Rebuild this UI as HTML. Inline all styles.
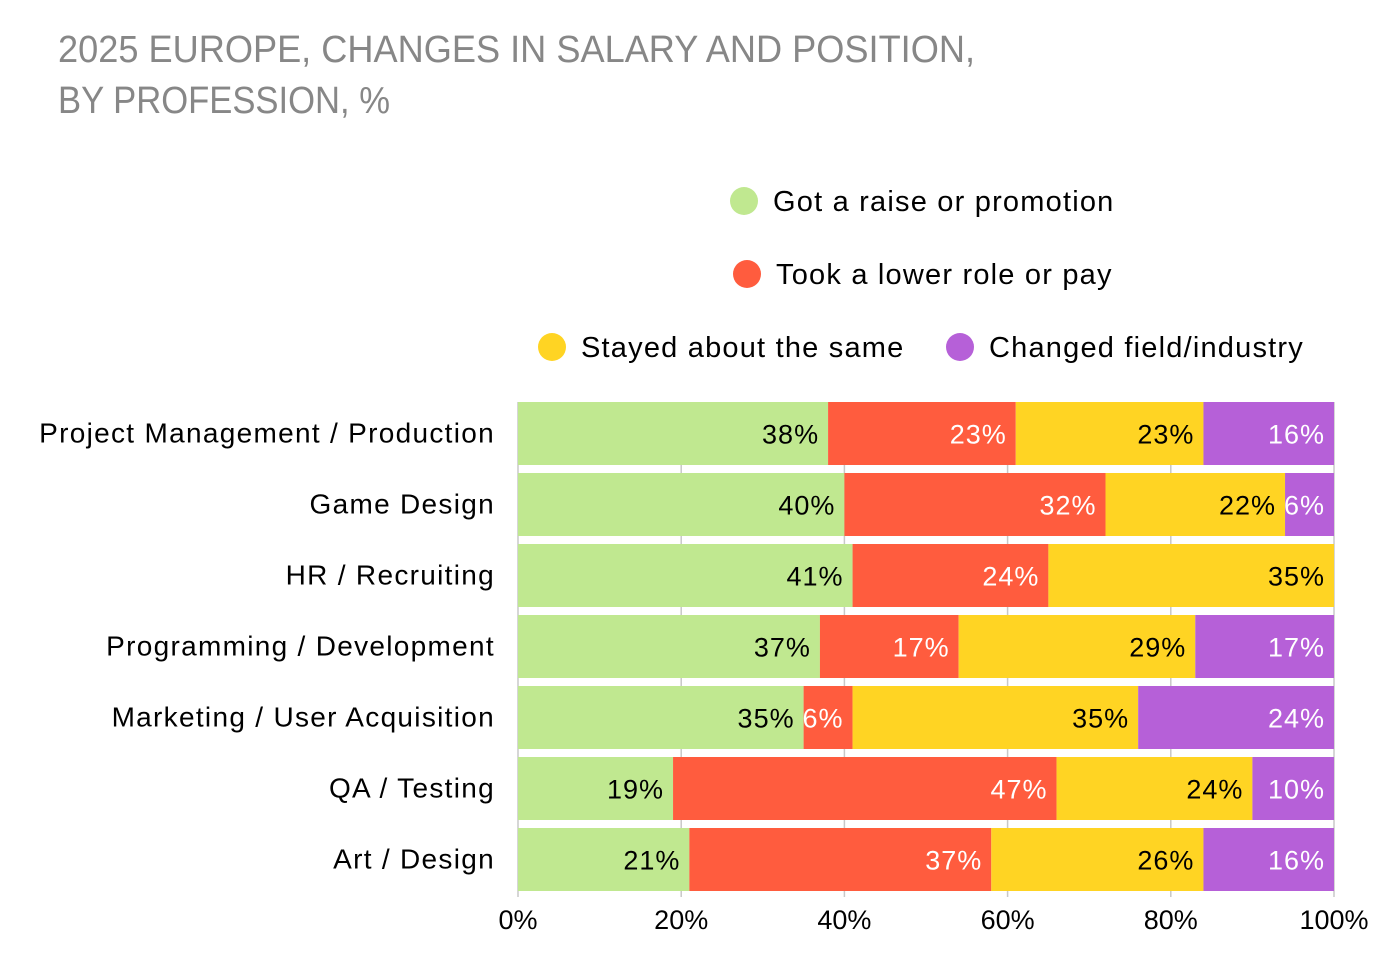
<!DOCTYPE html>
<html><head><meta charset="utf-8"><style>
html,body{margin:0;padding:0;background:#fff;}
svg{display:block;font-family:"Liberation Sans",sans-serif;}
</style></head><body>
<svg id="chart" width="1392" height="964" viewBox="0 0 1392 964">
<text x="58" y="62" font-size="38" fill="#878787" textLength="917" lengthAdjust="spacingAndGlyphs">2025 EUROPE, CHANGES IN SALARY AND POSITION,</text>
<text x="58" y="113" font-size="38" fill="#878787" textLength="332" lengthAdjust="spacingAndGlyphs">BY PROFESSION, %</text>
<g id="legend"></g>
<g id="grid"></g>
<g id="bars"></g>
<g id="xaxis"></g>
<g id="yaxis"></g>
</svg>
<script>
const categories = ["Project Management / Production","Game Design","HR / Recruiting","Programming / Development","Marketing / User Acquisition","QA / Testing","Art / Design"];
const seriesNames = ["Got a raise or promotion","Took a lower role or pay","Stayed about the same","Changed field/industry"];
const raise = [38,40,41,37,35,19,21];
const lower = [23,32,24,17,6,47,37];
const same = [23,22,35,29,35,24,26];
const changed = [16,6,0,17,24,10,16];
const xTicks = [0,20,40,60,80,100];
const tickLabels = ["0%","20%","40%","60%","80%","100%"];

const NS="http://www.w3.org/2000/svg";
const colors=["#c0e890","#ff5c3e","#ffd423","#b660d8"];
const textColors=["#000","#fff","#000","#fff"];
const series=[raise,lower,same,changed];
const x0=518,x1=1334,top0=402,step=71,bh=63;
const xs=v=>x0+(x1-x0)*v/100;
const yb=i=>top0+i*step;
function mk(tag,attrs,parent){const e=document.createElementNS(NS,tag);for(const k in attrs)e.setAttribute(k,attrs[k]);parent.appendChild(e);return e;}
const grid=document.getElementById('grid'),bars=document.getElementById('bars'),xa=document.getElementById('xaxis'),ya=document.getElementById('yaxis'),lg=document.getElementById('legend');
xTicks.forEach((t,i)=>{
  const l=mk('line',{x1:xs(t),x2:xs(t),y1:top0,y2:yb(categories.length-1)+bh+6,stroke:'#c8c8c8','stroke-width':1.5},grid);
  
  
  const tx=mk('text',{x:xs(t),y:929,'font-size':27,'text-anchor':'middle',fill:'#000'},xa);
  tx.textContent=tickLabels[i];
  
  
});
categories.forEach((c,i)=>{
  const y=yb(i);
  const t=mk('text',{x:495,y:y+bh/2+9,'font-size':28,'letter-spacing':1.3,'text-anchor':'end',fill:'#000'},ya);
  t.textContent=c;
  
  
  let acc=0;
  series.forEach((s,k)=>{
    const v=s[i]; if(!v){return;}
    const r=mk('rect',{x:xs(acc),y:y,width:xs(acc+v)-xs(acc),height:bh,fill:colors[k]},bars);
    
    
    acc+=v;
    const lb=mk('text',{x:xs(acc)-9,y:y+bh/2+10,'font-size':27,'letter-spacing':1,'text-anchor':'end',fill:textColors[k]},bars);
    lb.textContent=v+'%';
    
    
  });
});
const legendPos=[[744,201],[747,274],[552,347],[960,347]];
seriesNames.forEach((n,k)=>{
  const [cx,cy]=legendPos[k];
  const c=mk('circle',{cx:cx,cy:cy,r:14,fill:colors[k]},lg);
  
  
  const t=mk('text',{x:cx+29,y:cy+10,'font-size':29,'letter-spacing':1.2,fill:'#000'},lg);
  t.textContent=n;
  
  
});
</script>
</body></html>
